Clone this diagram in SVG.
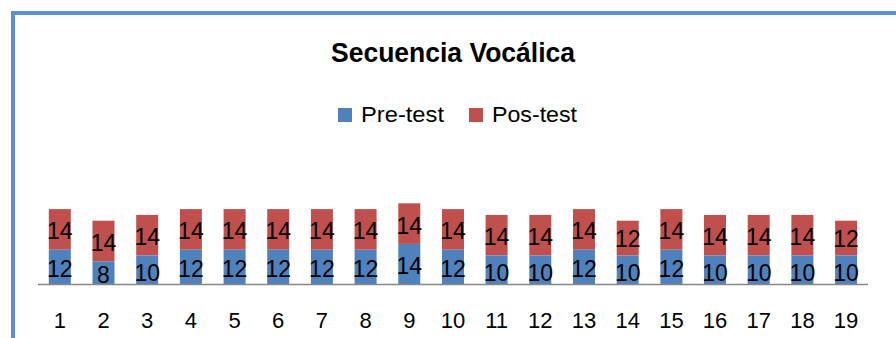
<svg xmlns="http://www.w3.org/2000/svg" width="896" height="338" viewBox="0 0 896 338">
<style>
.t{font-family:"Liberation Sans",Arial,sans-serif;fill:#000}
.title{font-size:27px;font-weight:bold}
.leg{font-size:22px}
.v{font-size:23px;text-anchor:middle}
.ax{font-size:22px;text-anchor:middle}
.pre{fill:#4F81BD}
.pos{fill:#C0504D}
</style>
<rect x="0" y="0" width="896" height="338" fill="#fff"/>
<rect x="13" y="13" width="900" height="340" fill="none" stroke="#5B8FD6" stroke-width="4"/>
<text class="t title" x="453" y="62" text-anchor="middle" textLength="244" lengthAdjust="spacingAndGlyphs">Secuencia Vocálica</text>
<g id="legend">
<rect class="pre" x="338" y="108" width="14" height="14"/>
<text class="t leg" x="361" y="122" textLength="83" lengthAdjust="spacingAndGlyphs">Pre-test</text>
<rect class="pos" x="469" y="108" width="14" height="14"/>
<text class="t leg" x="492" y="122" textLength="85" lengthAdjust="spacingAndGlyphs">Pos-test</text>
</g>
<g id="bars">
<g id="b1"><rect class="pos" x="48.8" y="209.1" width="22" height="40.6"/><rect class="pre" x="48.8" y="249.7" width="22" height="34.8"/><text class="t v" x="59.8" y="239.4">14</text><text class="t v" x="59.8" y="277">12</text></g>
<g id="b2"><rect class="pos" x="92.5" y="220.7" width="22" height="40.6"/><rect class="pre" x="92.5" y="261.3" width="22" height="23.2"/><text class="t v" x="103.5" y="251">14</text><text class="t v" x="103.5" y="283">8</text></g>
<g id="b3"><rect class="pos" x="136.2" y="214.9" width="22" height="40.6"/><rect class="pre" x="136.2" y="255.5" width="22" height="29"/><text class="t v" x="147.2" y="245.2">14</text><text class="t v" x="147.2" y="281">10</text></g>
<g id="b4"><rect class="pos" x="179.9" y="209.1" width="22" height="40.6"/><rect class="pre" x="179.9" y="249.7" width="22" height="34.8"/><text class="t v" x="190.9" y="239.4">14</text><text class="t v" x="190.9" y="277">12</text></g>
<g id="b5"><rect class="pos" x="223.6" y="209.1" width="22" height="40.6"/><rect class="pre" x="223.6" y="249.7" width="22" height="34.8"/><text class="t v" x="234.6" y="239.4">14</text><text class="t v" x="234.6" y="277">12</text></g>
<g id="b6"><rect class="pos" x="267.2" y="209.1" width="22" height="40.6"/><rect class="pre" x="267.2" y="249.7" width="22" height="34.8"/><text class="t v" x="278.2" y="239.4">14</text><text class="t v" x="278.2" y="277">12</text></g>
<g id="b7"><rect class="pos" x="310.9" y="209.1" width="22" height="40.6"/><rect class="pre" x="310.9" y="249.7" width="22" height="34.8"/><text class="t v" x="321.9" y="239.4">14</text><text class="t v" x="321.9" y="277">12</text></g>
<g id="b8"><rect class="pos" x="354.6" y="209.1" width="22" height="40.6"/><rect class="pre" x="354.6" y="249.7" width="22" height="34.8"/><text class="t v" x="365.6" y="239.4">14</text><text class="t v" x="365.6" y="277">12</text></g>
<g id="b9"><rect class="pos" x="398.3" y="203.3" width="22" height="40.6"/><rect class="pre" x="398.3" y="243.9" width="22" height="40.6"/><text class="t v" x="409.3" y="233.6">14</text><text class="t v" x="409.3" y="274.3">14</text></g>
<g id="b10"><rect class="pos" x="442" y="209.1" width="22" height="40.6"/><rect class="pre" x="442" y="249.7" width="22" height="34.8"/><text class="t v" x="453" y="239.4">14</text><text class="t v" x="453" y="277">12</text></g>
<g id="b11"><rect class="pos" x="485.6" y="214.9" width="22" height="40.6"/><rect class="pre" x="485.6" y="255.5" width="22" height="29"/><text class="t v" x="496.6" y="245.2">14</text><text class="t v" x="496.6" y="281">10</text></g>
<g id="b12"><rect class="pos" x="529.3" y="214.9" width="22" height="40.6"/><rect class="pre" x="529.3" y="255.5" width="22" height="29"/><text class="t v" x="540.3" y="245.2">14</text><text class="t v" x="540.3" y="281">10</text></g>
<g id="b13"><rect class="pos" x="573" y="209.1" width="22" height="40.6"/><rect class="pre" x="573" y="249.7" width="22" height="34.8"/><text class="t v" x="584" y="239.4">14</text><text class="t v" x="584" y="277">12</text></g>
<g id="b14"><rect class="pos" x="616.7" y="220.7" width="22" height="34.8"/><rect class="pre" x="616.7" y="255.5" width="22" height="29"/><text class="t v" x="627.7" y="247">12</text><text class="t v" x="627.7" y="281">10</text></g>
<g id="b15"><rect class="pos" x="660.4" y="209.1" width="22" height="40.6"/><rect class="pre" x="660.4" y="249.7" width="22" height="34.8"/><text class="t v" x="671.4" y="239.4">14</text><text class="t v" x="671.4" y="277">12</text></g>
<g id="b16"><rect class="pos" x="704" y="214.9" width="22" height="40.6"/><rect class="pre" x="704" y="255.5" width="22" height="29"/><text class="t v" x="715" y="245.2">14</text><text class="t v" x="715" y="281">10</text></g>
<g id="b17"><rect class="pos" x="747.7" y="214.9" width="22" height="40.6"/><rect class="pre" x="747.7" y="255.5" width="22" height="29"/><text class="t v" x="758.7" y="245.2">14</text><text class="t v" x="758.7" y="281">10</text></g>
<g id="b18"><rect class="pos" x="791.4" y="214.9" width="22" height="40.6"/><rect class="pre" x="791.4" y="255.5" width="22" height="29"/><text class="t v" x="802.4" y="245.2">14</text><text class="t v" x="802.4" y="281">10</text></g>
<g id="b19"><rect class="pos" x="835.1" y="220.7" width="22" height="34.8"/><rect class="pre" x="835.1" y="255.5" width="22" height="29"/><text class="t v" x="846.1" y="247">12</text><text class="t v" x="846.1" y="281">10</text></g>
</g>
<g id="axis">
<line x1="38" y1="284.5" x2="868" y2="284.5" stroke="#868686" stroke-width="1.5"/>
<text class="t ax" x="59.8" y="328">1</text>
<text class="t ax" x="103.5" y="328">2</text>
<text class="t ax" x="147.2" y="328">3</text>
<text class="t ax" x="190.9" y="328">4</text>
<text class="t ax" x="234.6" y="328">5</text>
<text class="t ax" x="278.2" y="328">6</text>
<text class="t ax" x="321.9" y="328">7</text>
<text class="t ax" x="365.6" y="328">8</text>
<text class="t ax" x="409.3" y="328">9</text>
<text class="t ax" x="453" y="328">10</text>
<text class="t ax" x="496.6" y="328">11</text>
<text class="t ax" x="540.3" y="328">12</text>
<text class="t ax" x="584" y="328">13</text>
<text class="t ax" x="627.7" y="328">14</text>
<text class="t ax" x="671.4" y="328">15</text>
<text class="t ax" x="715" y="328">16</text>
<text class="t ax" x="758.7" y="328">17</text>
<text class="t ax" x="802.4" y="328">18</text>
<text class="t ax" x="846.1" y="328">19</text>
</g>
</svg>
